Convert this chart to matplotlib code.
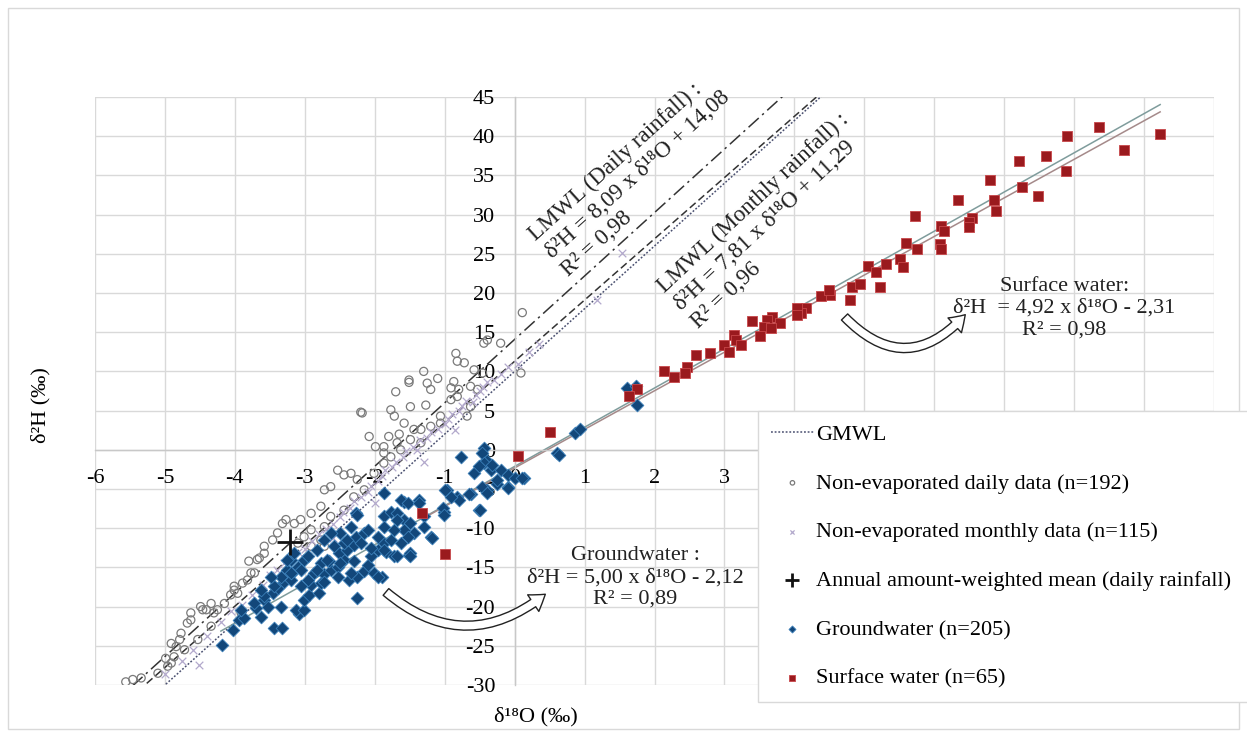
import matplotlib
matplotlib.use("Agg")
import matplotlib.pyplot as plt
from matplotlib.patches import FancyArrowPatch, Rectangle
import numpy as np

plt.rcParams["font.family"] = ["Liberation Serif", "DejaVu Serif"]
plt.rcParams["font.size"] = 16

# --- data ----------------------------------------------------------------
daily_x = [0.11, -0.44, -0.39, -0.20, -0.84, -0.82, -0.72, -1.30, -1.10, -1.51,
           -1.25, -1.20, -0.91, -0.87, -0.80, -0.63, -0.53, -0.82, -1.70, -1.27,
           -1.49, -1.77, -1.72, -2.20, -2.08, -1.58, -1.44, -1.20, -1.06, -0.68,
           -0.63, -1.80, -1.87, -1.68, -1.34, 0.09, -0.58, -0.46, -1.87, -1.51,
           -5.56, -4.68, -4.77, -4.63, -4.49, -4.41, -4.91, -4.99, -4.96, -4.06,
           -3.96, -3.89, -3.80, -3.68, -3.58, -3.46, -3.32, -3.27, -3.15, -3.06,
           -2.91, -2.77, -2.72, -2.63, -2.53, -2.44, -2.34, -2.25, -1.99, -2.77,
           -2.72, -2.91, -3.01, -3.10, -2.91, -2.72, -2.63, -2.44, -2.30, -2.15,
           -2.01, -1.87, -1.77, -1.63, -1.49, -1.34, -1.06, -0.91, -3.91, -4.25,
           -4.15, -4.34, -4.53, -4.72, -4.87, -5.10, -5.34, -3.39, -3.58, -3.77,
           -4.01, -5.46, -4.91, -4.84, -4.79, -4.63, -4.46, -4.34, -4.30, -4.01,
           -3.82, -3.72, -3.65, -2.18, -1.65]
daily_y = [17.5, 13.6, 14.0, 13.6, 12.3, 11.3, 11.1, 10.0, 9.1, 8.6,
           8.5, 7.7, 7.9, 8.7, 7.7, 8.1, 7.7, 6.8, 7.4, 5.7,
           5.5, 5.1, 4.3, 4.8, 1.7, 3.4, 2.6, 3.0, 3.4, 4.3,
           5.5, 1.7, 0.4, 0.9, 0.9, 9.8, 10.2, 9.8, -0.4, 8.9,
           -29.6, -22.1, -23.4, -20.8, -20.0, -20.4, -24.7, -26.6, -27.6, -18.5,
           -18.3, -17.0, -14.2, -14.0, -13.2, -11.5, -9.4, -8.9, -9.4, -8.9,
           -8.1, -7.2, -5.1, -4.7, -2.6, -3.2, -3.0, -3.8, 0.4, -11.5,
           -12.3, -12.3, -11.1, -11.9, -10.2, -9.8, -8.5, -7.7, -6.0, -5.1,
           -3.0, -1.7, -0.9, 0.0, 1.3, 2.6, 4.3, 6.4, -20.8, -20.4,
           -19.6, -22.5, -24.2, -25.5, -26.4, -28.5, -29.1, -10.6, -12.3, -15.7,
           -17.4, -29.3, -27.2, -25.1, -24.2, -21.7, -20.4, -19.6, -20.8, -17.9,
           -16.6, -15.7, -13.8, 4.7, 2.0]

monthly_x = [-4.75, -4.51, -4.60, -4.40, -4.20, -4.05, -3.90, -3.75, -3.60, -3.50,
             -3.40, -3.30, -3.20, -3.10, -3.00, -2.90, -2.80, -2.70, -2.60, -2.50,
             -2.45, -2.35, -2.30, -2.20, -2.10, -2.05, -1.95, -1.90, -1.85, -1.75,
             -1.70, -1.60, -1.55, -1.45, -1.40, -1.35, -1.25, -1.20, -1.10, -1.00,
             -0.95, -0.90, -0.80, -0.75, -0.70, -0.60, -0.55, -0.50, -0.45, -0.40,
             -0.30, -0.20, -0.10, 0.05, 0.20, 0.35, 1.18, 1.54, -2.60, -2.00,
             -1.30, -0.85, -5.00]
monthly_y = [-27.0, -27.4, -25.5, -23.8, -22.0, -20.5, -19.8, -18.5, -17.2, -16.0,
             -15.3, -14.5, -13.8, -13.0, -12.6, -11.6, -10.8, -10.1, -9.5, -8.6,
             -7.9, -7.4, -6.5, -6.0, -5.4, -4.6, -4.0, -3.4, -2.6, -2.2,
             -1.5, -0.9, -0.2, 0.4, 0.0, 1.2, 1.5, 2.3, 2.6, 3.3,
             3.9, 4.6, 5.0, 5.6, 6.2, 6.1, 7.0, 7.5, 8.0, 8.6,
             8.9, 9.7, 10.5, 11.0, 12.5, 13.5, 19.1, 25.1, -11.3, -6.8,
             -1.5, 2.5, -28.6]

mean_x = [-3.21]
mean_y = [-11.8]

gw_x = [-4.18, -4.03, -3.94, -3.87, -3.44, -3.32, -3.63, -3.70, -3.58, -3.46,
        -3.39, -3.30, -3.20, -3.10, -3.20, -3.01, -3.08, -3.13, -3.01, -3.01,
        -2.94, -2.80, -2.91, -2.77, -2.72, -2.87, -2.96, -2.63, -2.53, -2.65,
        -2.77, -2.44, -2.51, -2.39, -2.30, -2.44, -2.27, -2.15, -2.25, -2.37,
        -2.25, -2.15, -2.10, -2.06, -1.96, -1.89, -2.01, -1.84, -1.87, -1.77,
        -1.72, -1.51, -1.87, -1.77, -1.68, -1.58, -1.49, -1.58, -1.44, -1.53,
        -1.63, -1.30, -1.30, -1.37, -1.58, -1.20, -1.87, -2.27, -1.01, -0.96,
        -0.82, -0.63, -0.51, -0.77, -0.58, -0.41, -0.34, -0.39, -0.25, -0.10,
        -0.44, -0.46, -0.44, -0.32, -0.51, -0.20, -0.10, 0.01, 0.13, -0.10,
        -0.25, -0.46, -0.39, -0.65, -0.80, -0.91, -0.99, -1.03, -1.01, -0.49,
        -1.18, -1.49, -1.63, -1.53, -1.37, 0.11, 0.61, 0.63, 0.87, 0.94,
        1.61, 1.73, 1.75, -2.25, -1.68, -1.87, -1.72, -1.96, -2.10, -2.34,
        -2.49, -2.39, -2.20, -2.06, -1.87, -1.68, -1.49, -2.58, -2.72, -2.63,
        -2.82, -2.96, -2.68, -2.49, -2.30, -1.96, -2.34, -2.53, -2.82, -3.06,
        -3.25, -3.34, -3.20, -2.72, -3.06, -3.91, -3.72, -3.58, -3.63, -3.44,
        -3.34, -3.20, -3.25, -3.15, -3.49, -3.53]
gw_y = [-24.9, -23.0, -21.7, -21.5, -22.7, -22.7, -21.3, -20.2, -19.1, -18.3,
        -17.6, -16.8, -15.9, -14.9, -14.0, -14.0, -21.0, -20.4, -20.4, -19.1,
        -18.5, -18.3, -17.2, -17.0, -15.9, -15.7, -16.6, -15.3, -14.9, -14.2,
        -14.5, -14.0, -13.2, -12.8, -12.1, -11.9, -11.1, -10.6, -18.9, -16.6,
        -16.2, -15.5, -14.7, -13.6, -12.8, -16.2, -15.7, -13.0, -11.9, -11.5,
        -13.6, -13.4, -8.5, -7.9, -8.1, -8.9, -9.4, -10.2, -10.6, -11.1,
        -11.9, -8.5, -9.8, -6.4, -6.6, -11.1, -5.5, -8.1, -7.9, -5.1,
        -6.0, -5.7, -7.7, -0.9, -3.0, -1.3, -2.6, -5.1, -4.3, -4.7,
        0.2, -0.4, -1.7, -1.9, -2.1, -2.6, -3.2, -3.6, -3.6, -4.9,
        -3.8, -4.7, -5.5, -5.7, -6.4, -6.0, -5.1, -7.4, -8.3, -7.7,
        -11.3, -13.2, -6.4, -6.8, -6.8, -3.6, -0.4, -0.6, 2.1, 2.6,
        7.9, 8.1, 5.7, -8.3, -8.9, -9.8, -10.2, -11.1, -10.2, -9.8,
        -10.6, -11.5, -11.9, -12.5, -12.8, -13.6, -13.6, -12.3, -11.5, -10.6,
        -12.8, -13.6, -14.0, -14.5, -14.2, -16.2, -15.7, -16.2, -15.3, -15.3,
        -15.3, -16.2, -16.6, -16.8, -17.4, -20.4, -19.6, -18.7, -17.9, -17.4,
        -20.0, -15.7, -14.0, -13.2, -16.2, -20.0]

sw_x = [9.23, 8.36, 8.72, 7.90, 7.88, 7.60, 7.21, 7.26, 7.48, 6.80,
        6.86, 6.89, 6.34, 6.54, 6.49, 6.50, 5.73, 6.09, 6.14, 6.08,
        6.09, 5.60, 5.75, 5.51, 5.55, 5.31, 5.05, 5.16, 4.82, 4.94,
        5.23, 4.79, 4.51, 4.38, 4.16, 4.09, 4.49, 4.04, 4.04, 3.68,
        3.61, 3.80, 3.40, 3.56, 3.66, 3.51, 3.13, 3.16, 3.23, 2.99,
        3.06, 2.80, 2.59, 2.47, 2.44, 2.28, 2.13, 1.75, 1.63, 0.51,
        0.05, -1.32, -0.99]
sw_y = [40.3, 41.2, 38.2, 40.0, 35.5, 37.5, 36.9, 33.5, 32.4, 34.4,
        31.8, 30.4, 31.8, 29.6, 29.1, 28.4, 29.8, 28.5, 27.9, 26.3,
        25.6, 26.4, 25.6, 24.4, 23.3, 23.7, 23.4, 22.7, 20.8, 21.2,
        20.8, 19.1, 19.8, 19.6, 18.1, 17.5, 20.4, 18.1, 17.2, 17.0,
        16.6, 16.2, 16.4, 15.7, 15.5, 14.5, 14.7, 14.0, 13.4, 13.4,
        12.5, 12.3, 12.1, 10.6, 9.8, 9.3, 10.0, 7.7, 6.8, 2.3,
        -0.8, -8.1, -13.3]

# water lines: (slope, intercept, x-start, x-end)
gmwl = (8.00, 10.00, -6.0, 10.0)
lmwl_daily = (8.09, 14.08, -6.0, 10.0)
lmwl_monthly = (7.81, 11.29, -6.0, 10.0)
gw_fit = (5.00, -2.12, -4.2, 9.23)
sw_fit = (4.92, -2.31, -1.32, 9.23)

x_ticks = np.arange(-6, 11, 1)
y_ticks = np.arange(-30, 50, 5)
# labels right of x=3 sit under the legend in the original
x_tick_labels = [str(v) if v <= 3 else "" for v in x_ticks]


def line_xy(spec):
    a, b, x0, x1 = spec
    xs = np.array([x0, x1])
    return xs, a * xs + b


fig = plt.figure(figsize=(12.47, 7.37), dpi=100)
fig.patches.append(Rectangle((8 / 1247, 8 / 737), 1231 / 1247, 721 / 737,
                             transform=fig.transFigure, fill=False,
                             edgecolor="#d9d9d9", linewidth=1))
ax = fig.add_axes([95 / 1247, 1 - 685 / 737, 1119 / 1247, 588 / 737])

ax.set_xlim(-6, 10)
ax.set_ylim(-30, 45)
ax.set_xticks(x_ticks)
ax.set_yticks(y_ticks)
ax.set_xticklabels(x_tick_labels)
ax.set_yticklabels([str(v) for v in y_ticks])
ax.set_axisbelow(True)
ax.grid(True, color="#d9d9d9", linewidth=1)
for side in ("top", "right"):
    ax.spines[side].set_visible(False)
ax.spines["left"].set_position(("data", 0))
ax.spines["bottom"].set_position(("data", 0))
for side in ("left", "bottom"):
    ax.spines[side].set_color("#c8c8c8")
    ax.spines[side].set_linewidth(1)
ax.tick_params(axis="x", length=0, pad=14, labelsize=16)
ax.tick_params(axis="y", length=0, pad=14, labelsize=16)

# lines
xs, ys = line_xy(lmwl_daily)
ax.plot(xs, ys, color="#333333", lw=1.1, ls=(0, (9, 3, 1.5, 3)), zorder=2)
xs, ys = line_xy(lmwl_monthly)
ax.plot(xs, ys, color="#333333", lw=1.1, ls=(0, (5, 2.5)), zorder=2)
xs, ys = line_xy(gmwl)
gmwl_line, = ax.plot(xs, ys, color="#4a5070", lw=1.1, ls=(0, (1.2, 1.2)), zorder=2)
xs, ys = line_xy(gw_fit)
ax.plot(xs, ys, color="#7f9c9c", lw=1.1, zorder=2)
xs, ys = line_xy(sw_fit)
ax.plot(xs, ys, color="#a58a8a", lw=1.1, zorder=2)

# points
sc_daily = ax.scatter(daily_x, daily_y, s=34, marker="o", facecolors="none",
                      edgecolors="#7a7a7a", linewidths=0.9, zorder=3)
sc_monthly = ax.scatter(monthly_x, monthly_y, s=30, marker="x",
                        color="#b3a9cc", linewidths=0.9, zorder=3)
sc_gw = ax.scatter(gw_x, gw_y, s=42, marker="D", facecolors="#12477a",
                   edgecolors="#3b7fb8", linewidths=0.6, zorder=4)
sc_sw = ax.scatter(sw_x, sw_y, s=44, marker="s", facecolors="#9a1a1e",
                   edgecolors="#c8474a", linewidths=0.6, zorder=4)
sc_mean = ax.scatter(mean_x, mean_y, s=360, marker="+", color="#111111",
                     linewidths=2, zorder=5)

# equations (anchored at the start of the last line)
ax.text(0.74, 22.3, "LMWL (Daily rainfall) :\nδ²H = 8,09 x δ¹⁸O + 14,08\nR² = 0,98",
        rotation=42, rotation_mode="anchor", ha="left", va="baseline",
        multialignment="left", fontsize=16.5, linespacing=1.2, color="#222222",
        zorder=6)
ax.text(2.59, 15.7, "LMWL (Monthly rainfall) :\nδ²H = 7,81 x δ¹⁸O + 11,29\nR² = 0,96",
        rotation=43, rotation_mode="anchor", ha="left", va="baseline",
        multialignment="left", fontsize=16.5, linespacing=1.2, color="#222222",
        zorder=6)
ax.text(1.73, -16.3, "Groundwater :\nδ²H = 5,00 x δ¹⁸O - 2,12\nR² = 0,89",
        ha="center", va="center", multialignment="center", fontsize=16,
        linespacing=1.2, color="#222222", zorder=6)
ax.text(7.86, 18.1, "Surface water:\nδ²H  = 4,92 x δ¹⁸O - 2,31\nR² = 0,98",
        ha="center", va="center", multialignment="center", fontsize=16,
        linespacing=1.2, color="#222222", zorder=6)

# curved arrows
for a, b, rad in [((-1.87, -17.9), (0.47, -18.2), 0.42),
                  ((4.69, 17.2), (6.47, 17.5), 0.55)]:
    arr = FancyArrowPatch(a, b, connectionstyle=f"arc3,rad={rad}",
                          arrowstyle="simple,head_length=0.6,head_width=0.8,tail_width=0.35",
                          mutation_scale=18, facecolor="white",
                          edgecolor="#222222", linewidth=1, zorder=6)
    ax.add_patch(arr)

ax.set_xlabel("δ¹⁸O (‰)", fontsize=16)
ax.xaxis.set_label_coords((536 - 95) / 1119, -(707 - 685) / 588)
ax.set_ylabel("δ²H (‰)", fontsize=16)
ax.yaxis.set_label_coords(-(95 - 50) / 1119, (685 - 405) / 588)

leg = fig.legend([gmwl_line, sc_daily, sc_monthly, sc_mean, sc_gw, sc_sw],
                 ["GMWL", "Non-evaporated daily data (n=192)",
                  "Non-evaporated monthly data (n=115)",
                  "Annual amount-weighted mean (daily rainfall)",
                  "Groundwater (n=205)", "Surface water (n=65)"],
                 loc="upper left", bbox_to_anchor=(758 / 1247, 0.0, 0.45, 1 - 411 / 737),
                 mode="expand", fontsize=16, frameon=True, fancybox=False,
                 framealpha=1, edgecolor="#d9d9d9", borderpad=0.6,
                 labelspacing=1.27, handlelength=1.9, handletextpad=0.1,
                 markerscale=0.55, borderaxespad=0)
leg.get_frame().set_linewidth(1)

fig.savefig("out.png", dpi=100, facecolor="white")
